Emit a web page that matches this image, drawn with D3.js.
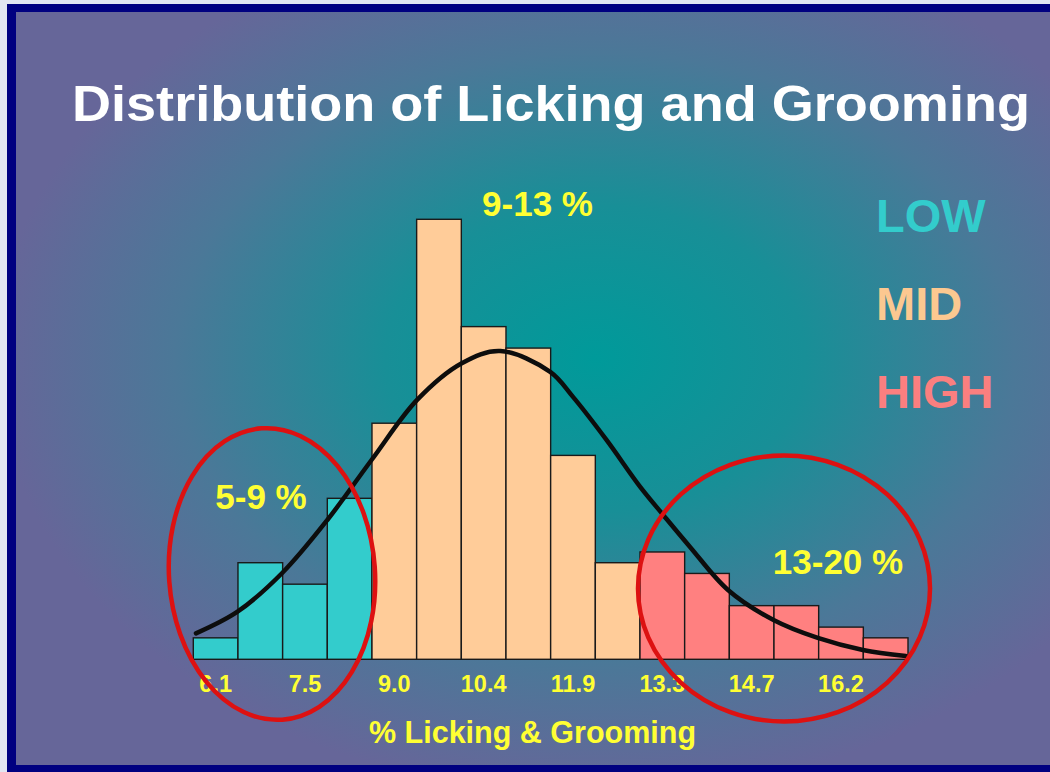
<!DOCTYPE html>
<html>
<head>
<meta charset="utf-8">
<script src="https://cdn.jsdelivr.net/npm/d3@7/dist/d3.min.js"></script>
<style>
  html, body { margin: 0; padding: 0; background: #e4e8f2; overflow: hidden; }
  svg { display: block; }
  text { font-family: "Liberation Sans", Arial, Helvetica, sans-serif; font-weight: bold; }
</style>
</head>
<body>
<svg id="chart" width="1050" height="772"></svg>
<script>
// Histogram bins (bin centre, % licking & grooming) and number of animals per bin
const bins = ["6.1", "6.8", "7.5", "8.3", "9.0", "9.7", "10.4", "11.2",
              "11.9", "12.6", "13.3", "14.0", "14.7", "15.5", "16.2", "16.9"];
const counts = [2, 9, 7, 15, 22, 41, 31, 29, 19, 9, 10, 8, 5, 5, 3, 2];
const groups = ["LOW", "LOW", "LOW", "LOW",
                "MID", "MID", "MID", "MID", "MID", "MID",
                "HIGH", "HIGH", "HIGH", "HIGH", "HIGH", "HIGH"];
const tickLabels = ["6.1", "7.5", "9.0", "10.4", "11.9", "13.3", "14.7", "16.2"];

// Fitted normal curve: [position in bin widths from the first bin edge, count]
const curvePos = [0.06, 0.99, 1.99, 3.0, 3.99, 5.01, 6.01, 6.87, 7.99, 8.5,
                  9.25, 10.0, 10.52, 11.12, 11.97, 12.99, 13.98, 14.99, 15.95];
const curveCount = [2.42, 4.44, 8.04, 12.98, 18.57, 24.17, 27.59, 28.73, 26.78, 24.45,
                    20.44, 16.09, 13.45, 10.47, 6.46, 3.66, 1.99, 0.87, 0.31];

// Group legend and range labels
const legendNames = ["LOW", "MID", "HIGH"];
const rangeLabels = [
  { group: "LOW", text: "5-9 %" },
  { group: "MID", text: "9-13 %" },
  { group: "HIGH", text: "13-20 %" }
];

const groupColor = { LOW: "#33cccc", MID: "#ffcc99", HIGH: "#ff8080" };
const legendColor = { LOW: "#33cccc", MID: "#fcc890", HIGH: "#fb7f7f" };

const svg = d3.select("#chart");
const W = 1050, H = 772;

// ---- frame and background ----
const defs = svg.append("defs");
const grad = defs.append("radialGradient")
  .attr("id", "bg")
  .attr("cx", 0.56).attr("cy", 0.46).attr("r", 0.58)
  .attr("fx", 0.56).attr("fy", 0.46);
grad.append("stop").attr("offset", "0%").attr("stop-color", "#009a9a");
grad.append("stop").attr("offset", "35%").attr("stop-color", "#188f97");
grad.append("stop").attr("offset", "70%").attr("stop-color", "#4b7898");
grad.append("stop").attr("offset", "100%").attr("stop-color", "#666699");

// light outer edge
svg.append("rect").attr("x", 0).attr("y", 0).attr("width", W).attr("height", H)
  .attr("fill", "#e2e6f1");
// slide background
svg.append("rect").attr("x", 16).attr("y", 12).attr("width", W - 16).attr("height", 753)
  .attr("fill", "url(#bg)");
// navy frame strips: left, top, bottom
const frame = [
  { x: 7, y: 4, w: 9, h: H - 4 },
  { x: 7, y: 4, w: W - 7, h: 8 },
  { x: 7, y: 765, w: W - 7, h: 7 }
];
svg.append("g").selectAll("rect").data(frame).join("rect")
  .attr("x", d => d.x).attr("y", d => d.y)
  .attr("width", d => d.w).attr("height", d => d.h)
  .attr("fill", "#000080");

// ---- scales ----
const plotLeft = 193.3, plotRight = 908, baseY = 659.3, topY = 219.3;
const x = d3.scaleBand().domain(bins).range([plotLeft, plotRight]).paddingInner(0).paddingOuter(0);
const xPos = d3.scaleLinear().domain([0, bins.length]).range([plotLeft, plotRight]);
const y = d3.scaleLinear().domain([0, d3.max(counts)]).range([baseY, topY]);

// ---- bars ----
svg.append("g").selectAll("rect")
  .data(bins.map((b, i) => ({ bin: b, count: counts[i], group: groups[i] })))
  .join("rect")
  .attr("x", d => x(d.bin))
  .attr("y", d => y(d.count))
  .attr("width", x.bandwidth())
  .attr("height", d => y(0) - y(d.count))
  .attr("fill", d => groupColor[d.group])
  .attr("stroke", "#1a1a1a")
  .attr("stroke-width", 1.4);

// ---- fitted curve ----
const line = d3.line()
  .x(d => xPos(d[0]))
  .y(d => y(d[1]))
  .curve(d3.curveCatmullRom.alpha(0.5));
svg.append("path")
  .datum(curvePos.map((p, i) => [p, curveCount[i]]))
  .attr("d", line)
  .attr("fill", "none")
  .attr("stroke", "#0d0d0d")
  .attr("stroke-width", 4.5)
  .attr("stroke-linecap", "round");

// ---- x axis ----
const axis = d3.axisBottom(x).tickValues(tickLabels).tickSize(0).tickPadding(16);
const gx = svg.append("g").attr("transform", `translate(0,${baseY})`).call(axis);
gx.select(".domain").remove();
gx.selectAll("text")
  .attr("fill", "#ffff33")
  .style("font-size", "23.5px")
  .style("font-family", "'Liberation Sans', Arial, sans-serif")
  .style("font-weight", "bold");

svg.append("text")
  .attr("x", 532.5).attr("y", 743)
  .attr("text-anchor", "middle")
  .attr("fill", "#ffff33")
  .style("font-size", "30.5px")
  .text("% Licking & Grooming");

// ---- highlight ellipses around the tails ----
const ellipses = [
  { cx: 272, cy: 574, rx: 103, ry: 146, rot: -4 },
  { cx: 784, cy: 588.5, rx: 146, ry: 133, rot: 0 }
];
svg.append("g").selectAll("ellipse")
  .data(ellipses)
  .join("ellipse")
  .attr("cx", 0).attr("cy", 0)
  .attr("rx", d => d.rx).attr("ry", d => d.ry)
  .attr("transform", d => `translate(${d.cx},${d.cy}) rotate(${d.rot})`)
  .attr("fill", "none")
  .attr("stroke", "#dd1111")
  .attr("stroke-width", 4.5);

// ---- range labels ----
const rangePos = { LOW: [261, 509], MID: [537.5, 216], HIGH: [838, 574] };
svg.append("g").selectAll("text")
  .data(rangeLabels)
  .join("text")
  .attr("x", d => rangePos[d.group][0])
  .attr("y", d => rangePos[d.group][1])
  .attr("text-anchor", "middle")
  .attr("fill", "#ffff33")
  .style("font-size", "35px")
  .text(d => d.text);

// ---- legend ----
svg.append("g").selectAll("text")
  .data(legendNames)
  .join("text")
  .attr("x", 876)
  .attr("y", (d, i) => 232 + i * 88)
  .attr("fill", d => legendColor[d])
  .style("font-size", "47px")
  .text(d => d);

// ---- title ----
svg.append("text")
  .attr("x", 72).attr("y", 120.5)
  .attr("fill", "#ffffff")
  .attr("textLength", 958)
  .attr("lengthAdjust", "spacingAndGlyphs")
  .style("font-size", "50px")
  .text("Distribution of Licking and Grooming");
</script>
</body>
</html>
